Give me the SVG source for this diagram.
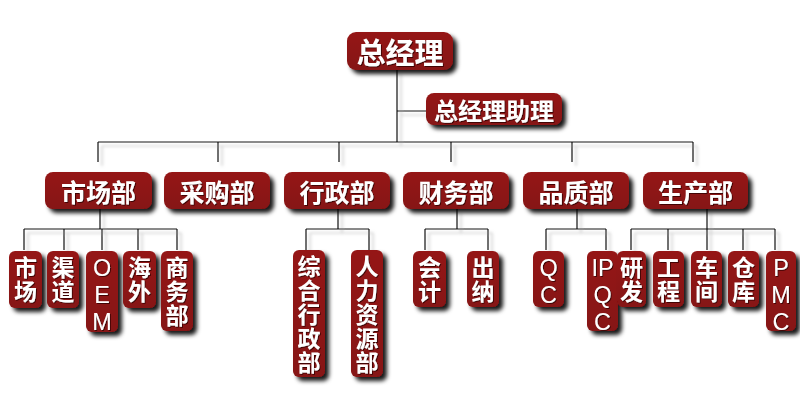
<svg xmlns="http://www.w3.org/2000/svg" width="800" height="412" viewBox="0 0 800 412">
<defs>
<filter id="bs" x="-30%" y="-30%" width="160%" height="160%">
<feDropShadow dx="4" dy="4" stdDeviation="2" flood-color="#000" flood-opacity="0.9"/>
</filter>
<filter id="ls" x="-10%" y="-10%" width="120%" height="120%">
<feDropShadow dx="4" dy="4" stdDeviation="1.5" flood-color="#999" flood-opacity="0.6"/>
</filter>
<filter id="ts" x="-10%" y="-10%" width="130%" height="130%">
<feDropShadow dx="1" dy="1" stdDeviation="0.6" flood-color="#300" flood-opacity="0.8"/>
</filter>
<linearGradient id="g" x1="0" y1="0" x2="0" y2="1">
<stop offset="0" stop-color="#951818"/>
<stop offset="1" stop-color="#861212"/>
</linearGradient>
</defs>
<style>
.b{fill:url(#g);filter:url(#bs)}
.t{fill:#fff;font-family:"Noto Sans CJK SC","Noto Sans",sans-serif;font-weight:700;text-anchor:middle;dominant-baseline:central;filter:url(#ts)}
.v{fill:#fff;font-family:"Noto Sans CJK SC","Noto Sans",sans-serif;font-weight:700;font-size:23px;letter-spacing:1px;writing-mode:vertical-rl;text-anchor:start;filter:url(#ts)}
.l{fill:none;stroke:#111;stroke-width:1.2}
.tl{font-size:29px}
.tm{font-size:25px}
.ts{font-size:24px}
.te{font-size:23.4px;font-weight:400;font-family:"Liberation Sans","Noto Sans",sans-serif}
</style>
<rect width="800" height="412" fill="#fff"/>
<g id="connectors" filter="url(#ls)">
<path class="l" d="M397 70V142M397 111H426M98 142H693M98 142V162M218 142V162M339 142V162M451 142V162M572 142V162M693 142V162"/>
<path class="l" d="M100 209V229M24 229H177M24 229V250M64 229V250M102 229V250M138 229V250M177 229V250"/>
<path class="l" d="M338 209V229M306 229H369M306 229V250M369 229V250"/>
<path class="l" d="M457 209V229M425 229H488M425 229V250M488 229V250"/>
<path class="l" d="M577 209V229M546 229H606M546 229V250M606 229V250"/>
<path class="l" d="M707 209V229M631 229H775M631 229V250M668 229V250M707 229V250M743 229V250M775 229V250"/>
</g>
<g id="n-gm"><rect class="b" x="347" y="32" width="106" height="38" rx="9"/><text class="t tl" x="400" y="51">总经理</text></g>
<g id="n-asst"><rect class="b" x="426" y="93" width="136" height="32" rx="8"/><text class="t ts" x="494" y="109">总经理助理</text></g>
<g id="n-sc"><rect class="b" x="45" y="172" width="107" height="37" rx="8"/><text class="t tm" x="98.5" y="190.5">市场部</text></g>
<g id="n-cg"><rect class="b" x="164" y="172" width="106" height="37" rx="8"/><text class="t tm" x="217" y="190.5">采购部</text></g>
<g id="n-xz"><rect class="b" x="284" y="172" width="106" height="37" rx="8"/><text class="t tm" x="337" y="190.5">行政部</text></g>
<g id="n-cw"><rect class="b" x="403" y="172" width="106" height="37" rx="8"/><text class="t tm" x="456" y="190.5">财务部</text></g>
<g id="n-pz"><rect class="b" x="523" y="172" width="106" height="37" rx="8"/><text class="t tm" x="576" y="190.5">品质部</text></g>
<g id="n-sccx"><rect class="b" x="643" y="172" width="105" height="37" rx="8"/><text class="t tm" x="695.5" y="190.5">生产部</text></g>

<g id="n-shichang"><rect class="b" x="9" y="251" width="33" height="57" rx="6"/><text class="v" x="25.5" y="256">市场</text></g>
<g id="n-qudao"><rect class="b" x="47" y="251" width="32" height="57" rx="6"/><text class="v" x="63" y="256">渠道</text></g>
<g id="n-oem"><rect class="b" x="86" y="251" width="32" height="81" rx="6"/><text class="t te" x="102"><tspan x="102" y="268">O</tspan><tspan x="102" y="295">E</tspan><tspan x="102" y="322">M</tspan></text></g>
<g id="n-haiwai"><rect class="b" x="123" y="251" width="33" height="57" rx="6"/><text class="v" x="139.5" y="256">海外</text></g>
<g id="n-shangwu"><rect class="b" x="161" y="251" width="32" height="80" rx="6"/><text class="v" x="177" y="256">商务部</text></g>

<g id="n-zhxz"><rect class="b" x="293" y="250" width="32" height="127" rx="6"/><text class="v" x="309" y="255">综合行政部</text></g>
<g id="n-rlzy"><rect class="b" x="351" y="250" width="32" height="127" rx="6"/><text class="v" x="367" y="255">人力资源部</text></g>

<g id="n-kuaiji"><rect class="b" x="413" y="251" width="33" height="56" rx="6"/><text class="v" x="429.5" y="256">会计</text></g>
<g id="n-chuna"><rect class="b" x="467" y="251" width="32" height="56" rx="6"/><text class="v" x="483" y="256">出纳</text></g>

<g id="n-qc"><rect class="b" x="533" y="251" width="31" height="56" rx="6"/><text class="t te" x="548.5"><tspan x="548.5" y="268">Q</tspan><tspan x="548.5" y="295">C</tspan></text></g>
<g id="n-ipqc"><rect class="b" x="587" y="251" width="31" height="80" rx="6"/><text class="t te" x="602.5"><tspan x="602.5" y="268">IP</tspan><tspan x="602.5" y="295">Q</tspan><tspan x="602.5" y="322">C</tspan></text></g>

<g id="n-yanfa"><rect class="b" x="617" y="251" width="29" height="56" rx="6"/><text class="v" x="631.5" y="256">研发</text></g>
<g id="n-gongcheng"><rect class="b" x="653" y="251" width="31" height="56" rx="6"/><text class="v" x="668.5" y="256">工程</text></g>
<g id="n-chejian"><rect class="b" x="691" y="251" width="31" height="56" rx="6"/><text class="v" x="706.5" y="256">车间</text></g>
<g id="n-cangku"><rect class="b" x="728" y="251" width="31" height="56" rx="6"/><text class="v" x="743.5" y="256">仓库</text></g>
<g id="n-pmc"><rect class="b" x="766" y="251" width="30" height="80" rx="6"/><text class="t te" x="781"><tspan x="781" y="268">P</tspan><tspan x="781" y="295">M</tspan><tspan x="781" y="322">C</tspan></text></g>
</svg>
